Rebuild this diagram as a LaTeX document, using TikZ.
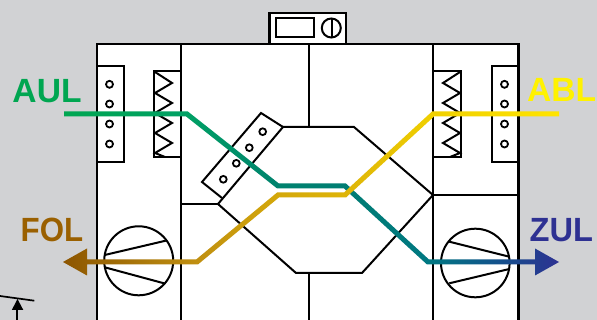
\documentclass[tikz,border=0pt]{standalone}
\usepackage{fontspec}
\setmainfont{Liberation Sans}
\definecolor{bggray}{HTML}{D1D2D4}
\definecolor{aulgreen}{HTML}{00A651}
\definecolor{folbrown}{HTML}{9A6000}
\definecolor{zulblue}{HTML}{2E3192}
\definecolor{ablyellow}{HTML}{FFF200}
\pgfdeclarehorizontalshading{greenflow}{100bp}{
  color(0bp)=(aulgreen!100);
  color(25bp)=(aulgreen);
  color(37.4bp)=(rgb,255:red,0;green,160;blue,100);
  color(46.7bp)=(rgb,255:red,0;green,130;blue,110);
  color(53.4bp)=(rgb,255:red,0;green,125;blue,115);
  color(61.8bp)=(rgb,255:red,0;green,120;blue,130);
  color(69bp)=(rgb,255:red,20;green,80;blue,140);
  color(75bp)=(zulblue);
  color(100bp)=(zulblue)}
\pgfdeclarehorizontalshading{yellowflow}{100bp}{
  color(0bp)=(rgb,255:red,140;green,85;blue,0);
  color(25bp)=(rgb,255:red,140;green,85;blue,0);
  color(34bp)=(rgb,255:red,175;green,125;blue,12);
  color(38.5bp)=(rgb,255:red,192;green,143;blue,16);
  color(46.7bp)=(rgb,255:red,212;green,168;blue,10);
  color(53.4bp)=(rgb,255:red,222;green,180;blue,8);
  color(62.3bp)=(rgb,255:red,240;green,208;blue,0);
  color(75bp)=(rgb,255:red,255;green,228;blue,0);
  color(100bp)=(rgb,255:red,255;green,228;blue,0)}
\tikzset{
  wall/.style={draw=black,line width=2.4pt},
  thin wall/.style={draw=black,line width=2pt},
  hole/.style={draw=black,line width=1.8pt,fill=white},
  flowlabel/.style={anchor=base west,inner sep=0pt,font=\fontsize{33.6}{33.6}\selectfont\bfseries}
}
\begin{document}
\begin{tikzpicture}[x=1pt,y=-1pt]
\useasboundingbox (0,0) rectangle (597,320);
\fill[bggray] (0,0) rectangle (597,320);
% housing
\fill[white] (97,44) rectangle (518.5,320);
\draw[wall] (97,320) -- (97,44) -- (518.5,44) -- (518.5,320);
\draw[thin wall] (181,44) -- (181,320);
\draw[thin wall] (433,44) -- (433,320);
\draw[thin wall] (309,44) -- (309,127);
\draw[thin wall] (309,273) -- (309,320);
% controller
\draw[wall,fill=white] (269.5,13) rectangle (346,44);
\draw[wall,line width=2pt] (276,18) rectangle (314,37);
\draw[thin wall] (331.3,28) circle (9.5);
\draw[thin wall] (331.5,18.5) -- (331.5,37.5);
% heat exchanger
\draw[thin wall,line join=miter] (283,127) -- (354,127) -- (433,195) -- (362,273) -- (296,273) -- (218,204) -- cycle;
\draw[thin wall] (181,204) -- (218,204);
\draw[thin wall] (433,195) -- (518.5,195);
% diagonal filter
\draw[thin wall] (222,198) -- (202,182) -- (261,113) -- (283,127);
\foreach \px/\py in {223.3/179.3,236.3/163.3,249.3/147.7,262.7/131.7}
  \draw[hole] (\px,\py) circle (3.4);
% left filter and heater
\draw[thin wall] (97,66) -- (124,66) -- (124,162) -- (97,162);
\foreach \py in {84.3,104,124,144}
  \draw[hole] (109.5,\py) circle (3.5);
\draw[thin wall] (181,71) -- (154,71) -- (154,157) -- (181,157);
\draw[thin wall,line join=miter] (155,72) -- (172,83) -- (155,93) -- (172,103) -- (155,113) -- (172,123) -- (155,133) -- (172,143) -- (155,153) -- (165,157);
% right filter and heater
\draw[thin wall] (518.5,66) -- (491.5,66) -- (491.5,162) -- (518.5,162);
\foreach \py in {84.3,104,124,144}
  \draw[hole] (504.5,\py) circle (3.5);
\draw[thin wall] (433,71) -- (461,71) -- (461,157) -- (433,157);
\draw[thin wall,line join=miter] (460,72) -- (443,83) -- (460,93) -- (443,103) -- (460,113) -- (443,123) -- (460,133) -- (443,143) -- (460,153) -- (450,157);
% fans
\draw[thin wall] (138.7,260.8) circle (34.5);
\draw[thin wall] (104.7,255) -- (165.7,240.7);
\draw[thin wall] (104.7,267.3) -- (164,283.3);
\draw[thin wall] (475.3,263) circle (34.3);
\draw[thin wall] (449.3,241.7) -- (509.3,256.7);
\draw[thin wall] (449.3,283.3) -- (509.3,269);
% small marker lower left
\draw[line width=1.7pt] (0,296) -- (34.3,300.7);
\draw[line width=1.7pt] (17.3,308) -- (17.3,320);
\fill[black] (17.5,299) -- (23.3,310) -- (11.8,310) -- cycle;
% air flows
\shade[shading=greenflow] (64,111.5) -- (187.87,111.5) -- (278.87,183.5) -- (345.97,183.5) -- (428.97,259.5) -- (535,259.5) -- (535,248.5) -- (559,262) -- (535,275.5) -- (535,264.5) -- (427.03,264.5) -- (344.03,188.5) -- (277.13,188.5) -- (186.13,116.5) -- (64,116.5) -- cycle;
\shade[shading=yellowflow] (559,111.5) -- (432.02,111.5) -- (344.02,192.5) -- (277.1,192.5) -- (196.1,259.5) -- (87,259.5) -- (87,248.5) -- (63,262) -- (87,275.5) -- (87,264.5) -- (197.9,264.5) -- (278.9,197.5) -- (345.98,197.5) -- (433.98,116.5) -- (559,116.5) -- cycle;
% labels
\node[flowlabel,text=aulgreen] (aul) at (12.3,103) {AUL};
\node[flowlabel,text=folbrown,xscale=.93] (fol) at (20.5,242) {FOL};
\node[flowlabel,text=ablyellow] (abl) at (527,102) {ABL};
\node[flowlabel,text=zulblue,xscale=.97] (zul) at (529.5,242) {ZUL};
\end{tikzpicture}
\end{document}
